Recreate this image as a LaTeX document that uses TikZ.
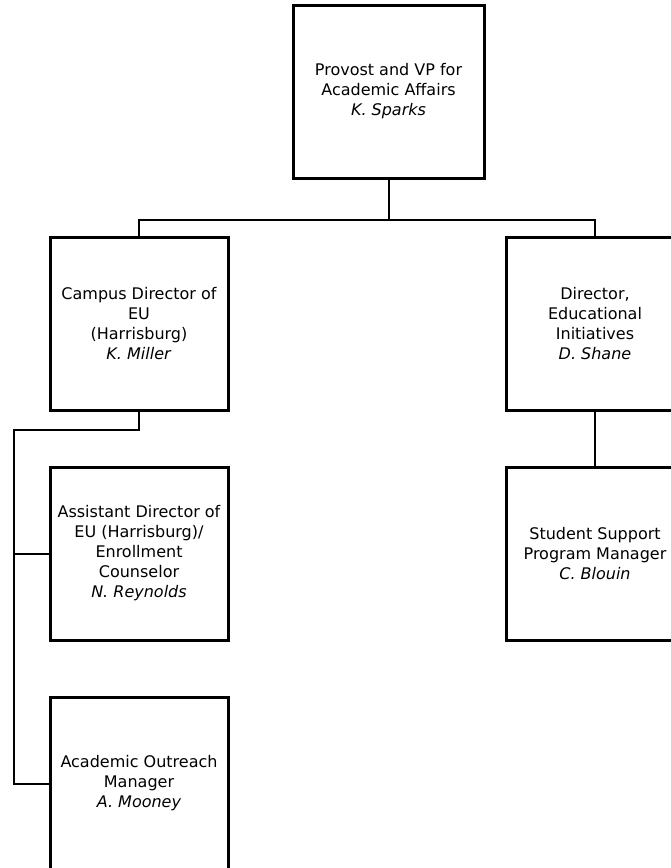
\documentclass[tikz,border=0pt]{standalone}
\usepackage{fontspec}
\setmainfont{DejaVu Sans}
\usetikzlibrary{positioning}

\tikzset{
	post/.style={draw, line width=3pt, minimum width=178pt, minimum height=173pt,
		align=center, inner sep=1pt, font=\fontsize{16}{20}\selectfont},
	link/.style={line width=2pt}
}

\begin{document}
\begin{tikzpicture}[x=1pt,y=1pt]
		\useasboundingbox (0,0) rectangle (671,-868);
		\node[post, minimum width=191pt] (provost) at (388.5,-91.5)
							{Provost and VP for\\Academic Affairs\\\textit{K. Sparks}};
		\node[post] (campus) at (139,-323.5)
							{Campus Director of\\EU\\(Harrisburg)\\\textit{K. Miller}};
		\node[post] (edinit) at (595,-323.5)
							{Director,\\Educational\\Initiatives\\\textit{D. Shane}};
		\node[post, below=54pt of campus] (assist)
							{Assistant Director of\\EU (Harrisburg)/\\Enrollment\\Counselor\\\textit{N. Reynolds}};
		\node[post, below=54pt of assist] (outreach)
							{Academic Outreach\\Manager\\\textit{A. Mooney}};
		\node[post, below=54pt of edinit] (support)
							{Student Support\\Program Manager\\\textit{C. Blouin}};
		% top level
		\draw[link] (provost.south) -- ++(0,-40) coordinate (bus);
		\draw[link] (campus.north) |- (bus) -| (edinit.north);
		% left column
		\draw[link] (campus.south) |- ++(-125,-18) coordinate (spine) |- (outreach.west);
		\draw[link] (spine |- assist.west) -- (assist.west);
		% right column
		\draw[link] (edinit.south) -- (support.north);
	\end{tikzpicture}
\end{document}
